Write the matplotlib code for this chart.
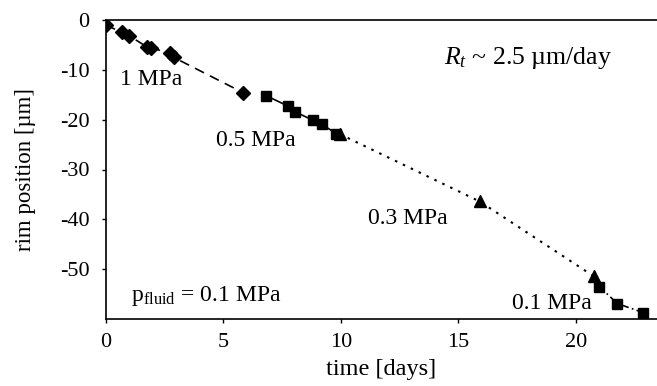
import matplotlib
matplotlib.use("Agg")
import matplotlib.pyplot as plt

plt.rcParams['font.family'] = ['Liberation Serif', 'DejaVu Serif']
plt.rcParams['mathtext.fontset'] = 'custom'
plt.rcParams['mathtext.rm'] = 'Liberation Serif'
plt.rcParams['mathtext.it'] = 'Liberation Serif:italic'

# 1 MPa (diamonds, dashed)
t_1 = [0.0, 0.67, 1.0, 1.74, 1.93, 2.74, 2.88, 5.84]
r_1 = [-1.0, -2.5, -3.2, -5.4, -5.6, -6.7, -7.5, -14.6]
# 0.5 MPa (squares, solid)
t_05 = [6.82, 7.76, 8.04, 8.80, 9.18, 9.80]
r_05 = [-15.2, -17.3, -18.4, -20.1, -20.9, -22.8]
# 0.3 MPa (triangles, dotted)
t_03 = [9.95, 15.9, 20.75]
r_03 = [-22.9, -36.4, -51.4]
# 0.1 MPa (squares, dash-dot)
t_01 = [21.0, 21.76, 22.85]
r_01 = [-53.5, -56.9, -58.7]

xticks = [0, 5, 10, 15, 20]
yticks = [0, -10, -20, -30, -40, -50]

W, H = 657, 386
fig = plt.figure(figsize=(W / 100, H / 100), dpi=100)
ax = fig.add_axes([106 / W, 1 - 319 / H, 551 / W, 299 / H])

lw = 1.2
ax.plot(t_1, r_1, color='black', linestyle=(0, (6, 4)), linewidth=lw,
        marker='D', markersize=7.5)
ax.plot(t_05, r_05, color='black', linestyle='-', linewidth=lw,
        marker='s', markersize=7)
ax.plot(t_03, r_03, color='black', linestyle=(0, (1.2, 3)), linewidth=lw + 0.3,
        marker='^', markersize=8.5)
ax.plot(t_01, r_01, color='black', linestyle=(0, (4, 2, 1, 2)), linewidth=lw,
        marker='s', markersize=7.5)

ax.set_xlim(0, 23.45)
ax.set_ylim(-60, 0)
ax.set_xticks(xticks)
ax.set_yticks(yticks)
ax.set_xticklabels([str(v) for v in xticks])
ax.set_yticklabels([str(v) for v in yticks])
ax.tick_params(direction='out', length=3, width=1.0, labelsize=16)
ax.tick_params(axis='y', pad=9)
ax.tick_params(axis='x', pad=7)
for s in ['left', 'bottom', 'top']:
    ax.spines[s].set_linewidth(1.2)
ax.spines['right'].set_visible(False)

ax.set_xlabel('time [days]', fontsize=17.5)
ax.set_ylabel('rim position [µm]', fontsize=16.5)
ax.xaxis.set_label_coords((381 - 106) / 551, -(359 - 319) / 299)
ax.yaxis.set_label_coords(-(106 - 36) / 551, 0.5)

fs = 17
ax.text(0.6, -12.0, '1 MPa', fontsize=fs, va='center', ha='left')
ax.text(4.68, -24.1, '0.5 MPa', fontsize=fs, va='center', ha='left')
ax.text(11.15, -39.8, '0.3 MPa', fontsize=fs, va='center', ha='left')
ax.text(17.3, -56.8, '0.1 MPa', fontsize=fs, va='center', ha='left')
ax.text(1.05, -55.4, r'p$_{\mathrm{fluid}}$ = 0.1 MPa',
        fontsize=fs, va='center', ha='left')
ax.text(14.4, -7.6, r'$R_t$ ~ 2.5 µm/day', fontsize=18.5, va='center', ha='left')

fig.savefig('out.png', dpi=100)
